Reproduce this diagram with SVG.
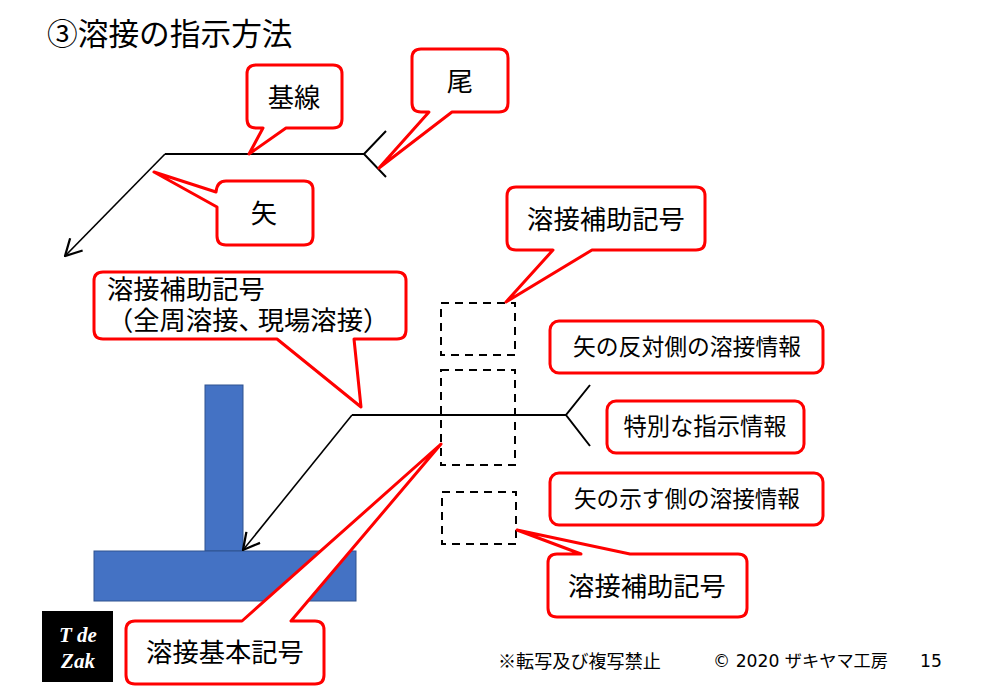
<svg xmlns="http://www.w3.org/2000/svg" width="981" height="689" viewBox="0 0 981 689">
<style>
text{font-family:"Noto Sans CJK JP","DejaVu Sans",sans-serif;fill:#000}
.c{fill:#fff;stroke:#f00;stroke-width:3;stroke-linejoin:round}
.l{fill:none;stroke:#000;stroke-width:2}
.a{fill:none;stroke:#000;stroke-width:1.6}
.d{fill:none;stroke:#000;stroke-width:2;stroke-dasharray:8 6}
.b{fill:#4472C4;stroke:#2F528F;stroke-width:1}
.t26{font-size:26.3px;text-anchor:middle}
.t23{font-size:22.8px;text-anchor:middle}
.f{font-size:17.2px}
.z{font-family:"Liberation Serif",serif;fill:#fff;font-size:21px;font-style:italic;font-weight:bold;text-anchor:middle}
</style>
<defs>
<marker id="v" markerUnits="userSpaceOnUse" markerWidth="20" markerHeight="20" refX="15" refY="8" orient="auto" viewBox="0 0 16 16"><path d="M2 1L15 8L2 15" fill="none" stroke="#000" stroke-width="1.8"/></marker>
</defs>
<rect width="981" height="689" fill="#fff"/>
<text id="title" x="47" y="45" font-size="30.7">③溶接の指示方法</text>
<g id="members">
<rect id="web" class="b" x="205" y="385" width="38" height="166"/>
<rect id="flange" class="b" x="94" y="551" width="262" height="50"/>
</g>
<g id="connectors">
<path class="l" d="M165 154H364M386 131L364 154L386 177"/>
<path class="a" d="M165 154L65 256" marker-end="url(#v)"/>
<path class="l" d="M352 415H566M590 385L566 415L590 446"/>
<path class="a" d="M352 415L243 550" marker-end="url(#v)"/>
</g>
<g id="dashed-boxes">
<rect class="d" x="441" y="303" width="74" height="52"/>
<rect class="d" x="441" y="370" width="74" height="95"/>
<rect class="d" x="442" y="492" width="74" height="52"/>
</g>
<g id="callout-kisen">
<path class="c" d="M256 65H333Q342 65 342 74V119Q342 128 333 128H286L249 154L263 128H256Q247 128 247 119V74Q247 65 256 65Z"/>
<text class="t26" x="294" y="107">基線</text>
</g>
<g id="callout-o">
<path class="c" d="M421 49H499Q508 49 508 58V103Q508 112 499 112H452L379 168L429 112H421Q412 112 412 103V58Q412 49 421 49Z"/>
<text class="t26" x="460" y="91">尾</text>
</g>
<g id="callout-ya">
<path class="c" d="M226 181H304Q313 181 313 190V236Q313 245 304 245H226Q217 245 217 236V207L154 172L216 192Q217 181 226 181Z"/>
<text class="t26" x="264" y="223">矢</text>
</g>
<g id="callout-hojo-top">
<path class="c" d="M516 187H696Q705 187 705 196V241Q705 250 696 250H592L506 302L553 250H516Q507 250 507 241V196Q507 187 516 187Z"/>
<text class="t26" x="606" y="229">溶接補助記号</text>
</g>
<g id="callout-hojo-zenshu">
<path class="c" d="M103 272H397Q406 272 406 281V330Q406 339 397 339H354L361 407L277 339H103Q94 339 94 330V281Q94 272 103 272Z"/>
<text font-size="26.3" x="107" y="299">溶接補助記号</text>
<text font-size="26.3" x="107" y="330">（全周溶接、<tspan dx="-7">現場溶接）</tspan></text>
</g>
<g id="callout-hantai">
<rect class="c" x="550" y="321" width="273" height="52" rx="9"/>
<text class="t23" x="687" y="355">矢の反対側の溶接情報</text>
</g>
<g id="callout-tokubetsu">
<rect class="c" x="607" y="401" width="197" height="52" rx="9"/>
<text class="t23" x="705" y="435" style="font-size:23.3px">特別な指示情報</text>
</g>
<g id="callout-shimesu">
<rect class="c" x="550" y="473" width="273" height="52" rx="9"/>
<text class="t23" x="687" y="507" style="font-size:22.6px">矢の示す側の溶接情報</text>
</g>
<g id="callout-hojo-bottom">
<path class="c" d="M557 554H581L517 530L630 554H738Q747 554 747 563V608Q747 617 738 617H557Q548 617 548 608V563Q548 554 557 554Z"/>
<text class="t26" x="647" y="596">溶接補助記号</text>
</g>
<g id="callout-kihon">
<path class="c" d="M135 621H242L441 444L291 621H315Q324 621 324 630V675Q324 684 315 684H135Q126 684 126 675V630Q126 621 135 621Z"/>
<text class="t26" x="225" y="662">溶接基本記号</text>
</g>
<g id="logo">
<rect x="42" y="611" width="71" height="71" fill="#000"/>
<text class="z" x="78" y="642">T de</text>
<text class="z" x="78" y="668">Zak</text>
</g>
<g id="footer">
<text x="498" y="668" style="font-size:18.1px">※転写及び複写禁止</text>
<text class="f" x="713" y="667" style="font-family:'DejaVu Sans','Noto Sans CJK JP',sans-serif">© 2020 ザキヤマ工房</text>
<text class="f" x="920" y="667" style="font-family:'DejaVu Sans',sans-serif">15</text>
</g>
</svg>
